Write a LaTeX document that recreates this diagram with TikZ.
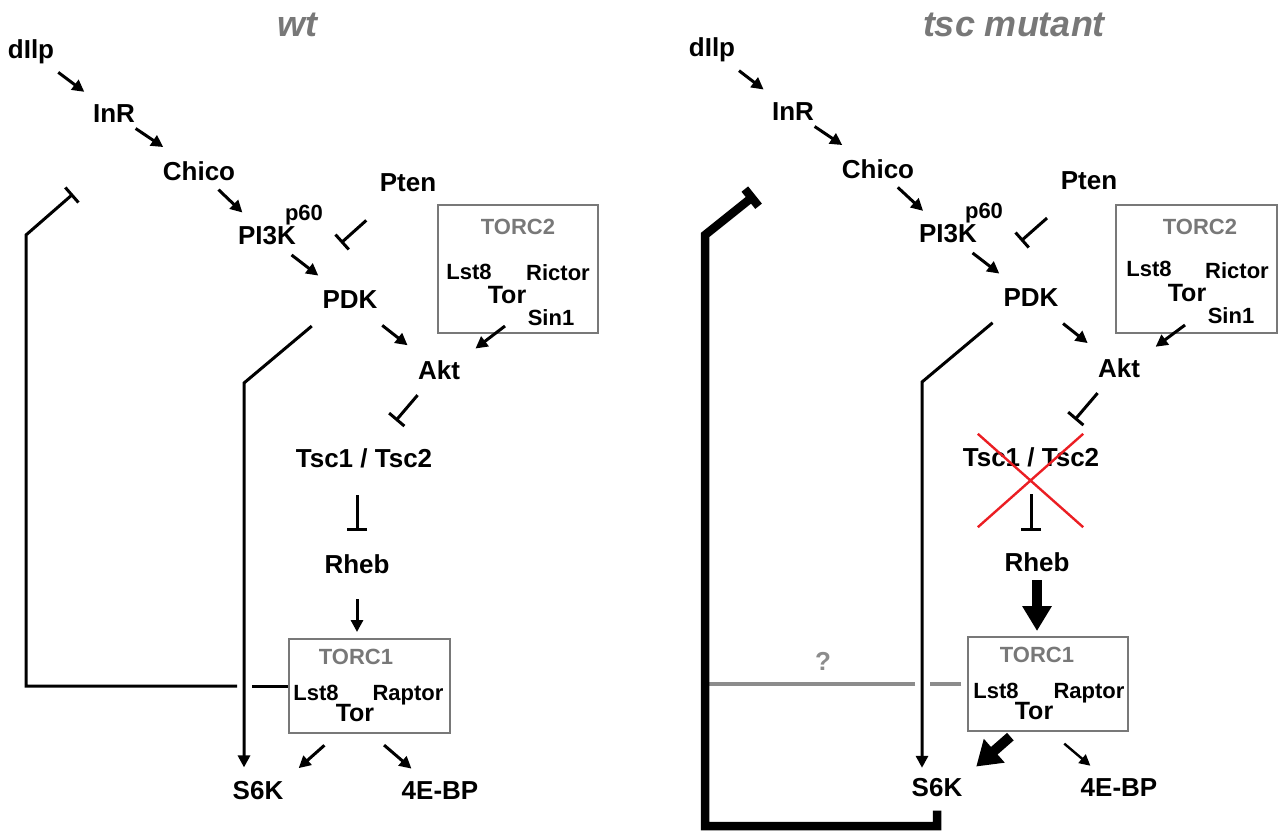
\documentclass[tikz,border=0pt]{standalone}
\usepackage{fontspec}
\setmainfont{Liberation Sans}
\usetikzlibrary{arrows.meta,calc,shapes.misc}
\definecolor{gris}{RGB}{120,120,120}
\definecolor{grisfin}{RGB}{140,140,140}
\definecolor{rouge}{RGB}{235,30,35}
\begin{document}
\begin{tikzpicture}[x=0.5pt,y=-0.5pt]
\tikzset{prot/.style={inner sep=0pt, font=\fontsize{13}{15}\selectfont\bfseries},
sous/.style={inner sep=0pt, font=\fontsize{11}{13}\selectfont\bfseries},
tor/.style={inner sep=0pt, font=\fontsize{12.5}{14}\selectfont\bfseries},
cplx/.style={inner sep=0pt, text=gris, font=\fontsize{11}{13}\selectfont\bfseries},
titre/.style={inner sep=0pt, text=gris, font=\fontsize{18}{20}\selectfont\bfseries\itshape},
boite/.style={draw=gris, line width=1pt, inner sep=0pt},
act/.style={line width=1.5pt, -{Triangle[length=6pt,width=6pt]}},
inh/.style={line width=1.5pt, -{Bar[width=10pt]}}}
\useasboundingbox (0,0) rectangle (1278,832);
\node[titre] (aTitre) at (297,25) {wt};
\node[prot] (aIlp) at (31,52) {dIlp};
\node[prot] (aInR) at (114,114) {InR};
\node[prot] (aChico) at (199,171) {Chico};
\node[prot] (aPI) at (267,236) {PI3K};
\node[sous] (ap60) at (304,215) {p60};
\node[prot] (aPten) at (408,183) {Pten};
\node[prot] (aPDK) at (350,300) {PDK};
\node[boite, minimum width=80pt, minimum height=64pt] (aC2) at (518,269) {};
\node[cplx] (aC2nom) at (518,227) {TORC2};
\node[sous] (aLst2) at (469,272) {Lst8};
\node[sous] (aRictor) at (558,273) {Rictor};
\node[tor] (aTor2) at (507,295) {Tor};
\node[sous] (aSin) at (551,318) {Sin1};
\node[prot] (aAkt) at (439,370) {Akt};
\node[prot] (aTsc) at (364,458) {Tsc1 / Tsc2};
\node[prot] (aRheb) at (357,564) {Rheb};
\node[boite, minimum width=80.5pt, minimum height=47pt] (aC1) at (369.5,686) {};
\node[cplx] (aC1nom) at (356,657) {TORC1};
\node[sous] (aLst1) at (316,693) {Lst8};
\node[sous] (aRaptor) at (408,695) {Raptor};
\node[tor] (aTor1) at (355,713) {Tor};
\node[prot] (aS6K) at (258,791) {S6K};
\node[prot] (aBP) at (440,791) {4E-BP};
\coordinate (aPtenT) at (341,243);
\coordinate (aKnee) at (244,383);
\coordinate (aCross) at (aKnee |- aC1.west);
\coordinate (aCoin1) at (26,686);
\coordinate (aCoin2) at (26,235);
\coordinate (aFbT) at (73,194);
\draw[act, shorten <=17pt, shorten >=18.5pt] (aIlp.center) -- (aInR.center);
\draw[act, shorten <=13pt, shorten >=21.5pt] (aInR.center) -- (aChico.center);
\draw[act, shorten <=13.5pt, shorten >=17pt] (aChico.center) -- (aPI.center);
\draw[act, shorten <=15.5pt, shorten >=20pt] (aPI.center) -- (aPDK.center);
\draw[inh, shorten <=28pt] (aPten.center) -- (aPtenT);
\draw[act, shorten <=20.5pt, shorten >=20pt] (aPDK.center) -- (aAkt.center);
\draw[act, shorten >=9.5pt] ([shift={(-13,-8)}]aC2.south) -- (aAkt.north east);
\draw[inh, shorten <=16.5pt, shorten >=24.5pt] (aAkt.center) -- (aTsc.center);
\draw[inh, shorten <=18.5pt, shorten >=16.5pt] (aRheb |- aTsc) -- (aRheb.center);
\draw[act, shorten <=17.5pt, shorten >=3pt] (aRheb.center) -- (aRheb |- aC1.north);
\draw[act, shorten <=8.5pt, shorten >=10pt] (aC1.-124) -- (aS6K.north east);
\draw[act, shorten <=8.5pt, shorten >=10pt] (aC1.-88) -- (aBP.145);
\draw[act, shorten <=13pt, shorten >=7pt] (aPDK.-153) -- (aKnee) -- (aKnee |- aS6K.north);
\draw[line width=1.5pt] (aC1.west) -- ([xshift=4pt]aCross);
\draw[inh] ([xshift=-3.5pt]aCross) -- (aCoin1) -- (aCoin2) -- (aFbT);
\node[titre] (bTitre) at (1014,25) {tsc mutant};
\node[prot] (bIlp) at (712,50) {dIlp};
\node[prot] (bInR) at (793,112) {InR};
\node[prot] (bChico) at (878,169) {Chico};
\node[prot] (bPI) at (948,234) {PI3K};
\node[sous] (bp60) at (984,213) {p60};
\node[prot] (bPten) at (1089,181) {Pten};
\node[prot] (bPDK) at (1031,298) {PDK};
\node[boite, minimum width=80.5pt, minimum height=64pt] (bC2) at (1196,269) {};
\node[cplx] (bC2nom) at (1200,227) {TORC2};
\node[sous] (bLst2) at (1149,269) {Lst8};
\node[sous] (bRictor) at (1237,271) {Rictor};
\node[tor] (bTor2) at (1187,293) {Tor};
\node[sous] (bSin) at (1231,316) {Sin1};
\node[prot] (bAkt) at (1119,368) {Akt};
\node[prot] (bTsc) at (1031,457) {Tsc1 / Tsc2};
\node[prot] (bRheb) at (1037,562) {Rheb};
\node[boite, minimum width=80pt, minimum height=47pt] (bC1) at (1048,684) {};
\node[cplx] (bC1nom) at (1037,655) {TORC1};
\node[sous] (bLst1) at (996,691) {Lst8};
\node[sous] (bRaptor) at (1089,693) {Raptor};
\node[tor] (bTor1) at (1034,711) {Tor};
\node[prot] (bS6K) at (937,788) {S6K};
\node[prot] (bBP) at (1119,788) {4E-BP};
\node[prot, text=grisfin] (bQ) at (823,661) {?};
\node[cross out, draw=rouge, line width=1.2pt, inner sep=0pt, minimum width=51.5pt, minimum height=45.5pt] (bKO) at (1030.5,480.5) {};
\coordinate (bPtenT) at (1021,241);
\coordinate (bKnee) at (922,382);
\coordinate (bCross) at (bKnee |- bC1.west);
\coordinate (bCoin1) at (705,684);
\coordinate (bBas) at (705,826);
\coordinate (bHaut) at (705,235);
\coordinate (bFbT) at (755,195);
\draw[act, shorten <=17pt, shorten >=18.5pt] (bIlp.center) -- (bInR.center);
\draw[act, shorten <=13pt, shorten >=21.5pt] (bInR.center) -- (bChico.center);
\draw[act, shorten <=13.5pt, shorten >=17pt] (bChico.center) -- (bPI.center);
\draw[act, shorten <=15.5pt, shorten >=20pt] (bPI.center) -- (bPDK.center);
\draw[inh, shorten <=28pt] (bPten.center) -- (bPtenT);
\draw[act, shorten <=20.5pt, shorten >=20pt] (bPDK.center) -- (bAkt.center);
\draw[act, shorten >=9.5pt] ([shift={(-11,-9)}]bC2.south) -- (bAkt.north east);
\draw[inh, shorten <=16.5pt, shorten >=24.5pt] (bAkt.center) -- ([xshift=6pt]bTsc.center);
\draw[inh, shorten <=18.5pt, shorten >=15.5pt] (bTsc.center) -- (bTsc |- bRheb);
\draw[line width=5pt, -{Triangle[length=12.5pt,width=14pt]}, shorten <=9pt, shorten >=2.5pt] (bRheb.center) -- (bRheb |- bC1.north);
\draw[line width=5pt, -{Triangle[length=12pt,width=15pt]}, shorten <=3.5pt, shorten >=9pt] (bC1.-124) -- (bS6K.north east);
\draw[line width=1.2pt, -{Triangle[length=5.5pt,width=5.5pt]}, shorten <=9pt, shorten >=10pt] (bC1.-87) -- (bBP.145);
\draw[act, shorten <=12pt, shorten >=5.3pt] (bPDK.-155) -- (bKnee) -- (bKnee |- bS6K.north);
\draw[grisfin, line width=2pt, shorten <=3pt] (bC1.west) -- ([xshift=4pt]bCross);
\draw[grisfin, line width=2pt] ([xshift=-3.5pt]bCross) -- (bCoin1);
\draw[line width=4.25pt, -{Bar[width=11pt]}, shorten <=6.5pt] (bS6K.south) -- (bS6K.south |- bBas) -- (bBas) -- (bHaut) -- (bFbT);
\end{tikzpicture}
\end{document}
